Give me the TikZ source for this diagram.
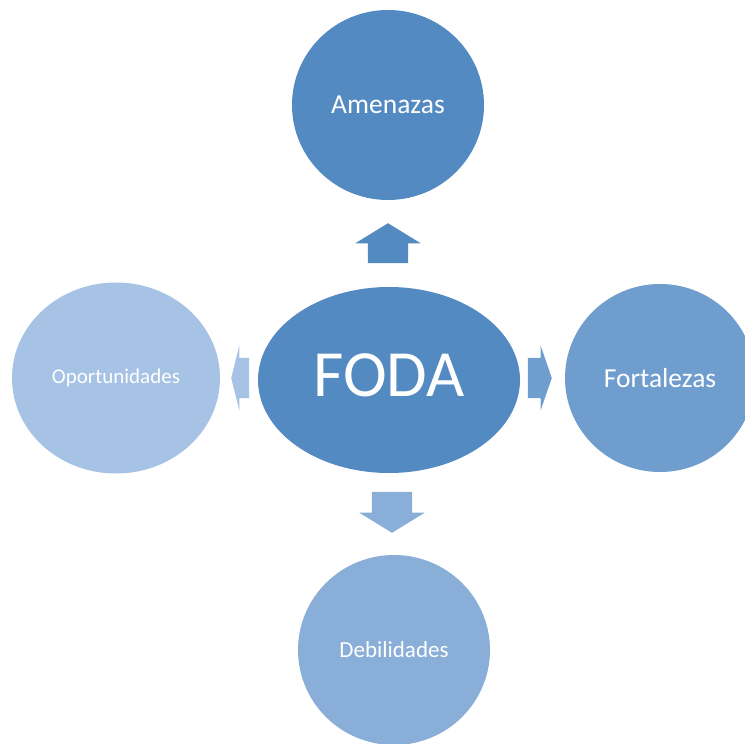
\documentclass[tikz,border=0pt]{standalone}
\usepackage{fontspec}
\setmainfont{Carlito}
\usetikzlibrary{shapes.geometric,shapes.arrows}
\definecolor{fodaA}{RGB}{83,138,193}
\definecolor{fodaB}{RGB}{111,158,206}
\definecolor{fodaC}{RGB}{137,174,216}
\definecolor{fodaD}{RGB}{166,194,228}
\begin{document}
\begin{tikzpicture}[x=1pt,y=-1pt,
  blob/.style={ellipse,inner sep=0pt,text=white},
  blockarrow/.style={single arrow,inner xsep=0pt,inner ysep=20pt,
    single arrow head extend=12.5pt,single arrow head indent=0pt,anchor=tip}]
  \useasboundingbox (0,0) rectangle (745,744);
  % the four quadrants round the centre
  \node[blob,fill=fodaA,minimum width=262pt,minimum height=186pt,text depth=9pt,
    font=\fontsize{66}{66}\selectfont] (foda) at (389,380) {FODA};
  \node[blob,fill=fodaA,minimum width=192pt,minimum height=190pt,
    font=\fontsize{27.5}{27.5}\selectfont] (amen) at (388,105) {Amenazas};
  \node[blob,fill=fodaB,minimum width=190pt,minimum height=188pt,
    font=\fontsize{27.5}{27.5}\selectfont] (fort) at (660,378) {Fortalezas};
  \node[blob,fill=fodaC,minimum width=192pt,minimum height=190pt,
    font=\fontsize{23}{23}\selectfont] (debi) at (394,650) {Debilidades};
  \node[blob,fill=fodaD,minimum width=208pt,minimum height=191pt,
    font=\fontsize{21}{21}\selectfont] (opor) at (116,378) {Oportunidades};
  % block arrows
  \node[blockarrow,fill=fodaA,minimum height=40pt,rotate=90,
    single arrow tip angle=117] (toamen) at (388,223) {};
  \node[blockarrow,fill=fodaB,minimum height=24pt,
    single arrow tip angle=142] (tofort) at (552,378) {};
  \node[blockarrow,fill=fodaC,minimum height=41pt,rotate=-90,
    single arrow tip angle=117] (todebi) at (392,533) {};
  \node[blockarrow,fill=fodaD,minimum height=18pt,rotate=180,
    single arrow tip angle=152] (toopor) at (231,378) {};
\end{tikzpicture}
\end{document}
